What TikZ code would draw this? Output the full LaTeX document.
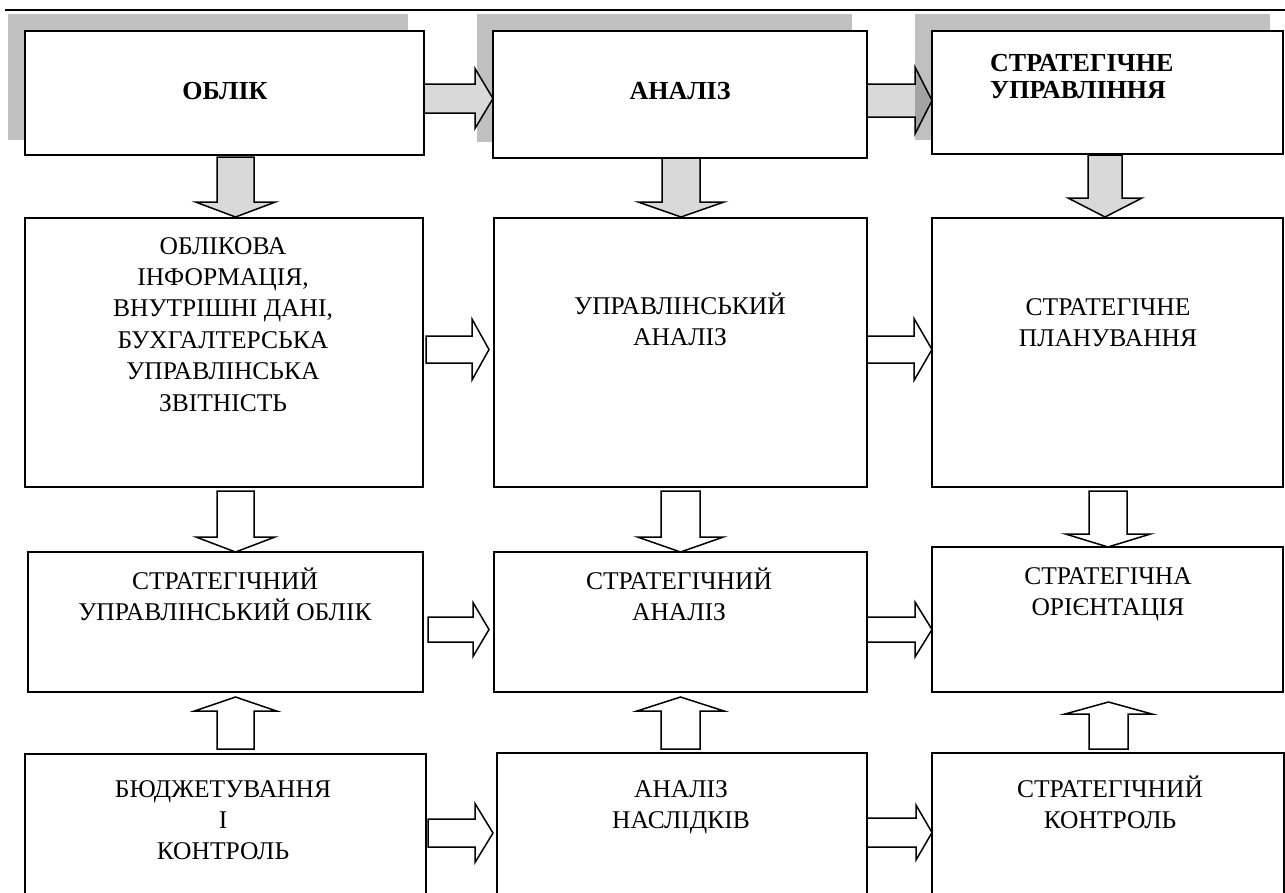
\documentclass[tikz,border=0pt]{standalone}
\usepackage{fontspec}
\setmainfont{Liberation Serif}
\usetikzlibrary{calc}
\definecolor{shadowgray}{HTML}{C0C0C0}
\definecolor{arrowgray}{HTML}{D9D9D9}
\newcommand{\txtlines}[1]{\begin{tabular}[t]{@{}c@{}}#1\end{tabular}}
\newcommand{\txtleft}[1]{\begin{tabular}[t]{@{}l@{}}#1\end{tabular}}
% right block arrow: style, from, to, y centre, shaft half, head half, head length, start gap, tip gap
\newcommand{\RArrow}[9]{%
  \coordinate (ra-s) at ($(#2.east |- 0,#4)+(#8,0)$);
  \coordinate (ra-t) at ($(#3.west |- 0,#4)+(-#9,0)$);
  \draw[#1] ($(ra-s)+(0,-#5)$) -- ($(ra-t)+(-#7,-#5)$) -- ($(ra-t)+(-#7,-#6)$) -- (ra-t)
    -- ($(ra-t)+(-#7,#6)$) -- ($(ra-t)+(-#7,#5)$) -- ($(ra-s)+(0,#5)$) -- cycle;}
% down block arrow: style, from, to, x centre, shaft half, head half, head length, start gap, tip gap
\newcommand{\DArrow}[9]{%
  \coordinate (da-s) at ($(#2.south -| #4,0)+(0,#8)$);
  \coordinate (da-t) at ($(#3.north -| #4,0)+(0,-#9)$);
  \draw[#1] ($(da-s)+(-#5,0)$) -- ($(da-t)+(-#5,-#7)$) -- ($(da-t)+(-#6,-#7)$) -- (da-t)
    -- ($(da-t)+(#6,-#7)$) -- ($(da-t)+(#5,-#7)$) -- ($(da-s)+(#5,0)$) -- cycle;}
% up block arrow: style, from (lower), to (upper), x centre, shaft half, head half, head length, start gap, tip gap
\newcommand{\UArrow}[9]{%
  \coordinate (ua-s) at ($(#2.north -| #4,0)+(0,-#8)$);
  \coordinate (ua-t) at ($(#3.south -| #4,0)+(0,#9)$);
  \draw[#1] ($(ua-s)+(-#5,0)$) -- ($(ua-t)+(-#5,#7)$) -- ($(ua-t)+(-#6,#7)$) -- (ua-t)
    -- ($(ua-t)+(#6,#7)$) -- ($(ua-t)+(#5,#7)$) -- ($(ua-s)+(#5,0)$) -- cycle;}

\begin{document}
\begin{tikzpicture}[x=1pt,y=-1pt,
  box/.style={draw=black, line width=1.5pt, fill=white, inner sep=0pt, outer sep=0pt, anchor=north west},
  lbl/.style={anchor=base, inner sep=0pt, font=\fontsize{25.5}{31.4}\selectfont},
  hdr/.style={anchor=base, inner sep=0pt, font=\bfseries\fontsize{26}{27}\selectfont},
  garrow/.style={draw=black, line width=1.5pt, fill=arrowgray},
  garrowb/.style={draw=black, line width=1.5pt, fill=black, fill opacity=0.15, draw opacity=1},
  warrow/.style={draw=black, line width=1.5pt, fill=white},
]
\useasboundingbox (0,0) rectangle (1285,892);
\clip (0,0) rectangle (1285,892);
\fill[white] (0,0) rectangle (1285,892);

% top rule
\draw[line width=2.5pt] (5,10) -- (1285,10);

% shadows of the top boxes
\fill[shadowgray] (8,14) rectangle (408,140);
\fill[shadowgray] (477,14) rectangle (852,142);
\fill[shadowgray] (915,14) rectangle (1270,140);

% top row
\node[box, minimum width=399pt, minimum height=124pt] (acc) at (25,31) {};
\node[box, minimum width=374pt, minimum height=127pt] (ana) at (493,31) {};
\node[box, minimum width=351pt, minimum height=123pt] (stm) at (932,31) {};

% second row
\node[box, minimum width=398pt, minimum height=269pt] (r2c1) at (25,218) {};
\node[box, minimum width=373pt, minimum height=269pt] (r2c2) at (494,218) {};
\node[box, minimum width=351pt, minimum height=269pt] (r2c3) at (932,218) {};

% third row
\node[box, minimum width=395pt, minimum height=140pt] (r3c1) at (28,552) {};
\node[box, minimum width=373pt, minimum height=140pt] (r3c2) at (494,552) {};
\node[box, minimum width=351pt, minimum height=145pt] (r3c3) at (932,547) {};

% fourth row (cut by the page bottom)
\node[box, minimum width=401pt, minimum height=160pt] (r4c1) at (25,754) {};
\node[box, minimum width=370pt, minimum height=160pt] (r4c2) at (497,753) {};
\node[box, minimum width=352pt, minimum height=160pt] (r4c3) at (932,753) {};

% horizontal arrows
\RArrow{garrow}{acc}{ana}{98.5}{14.5}{30}{18}{0}{0}
\RArrow{garrowb}{ana}{stm}{100.5}{16.5}{33.5}{17}{0}{0}
\RArrow{warrow}{r2c1}{r2c2}{349.5}{13.5}{30.5}{17}{3}{5}
\RArrow{warrow}{r2c2}{r2c3}{349.5}{13.5}{31}{18}{0}{0}
\RArrow{warrow}{r3c1}{r3c2}{629.5}{12.5}{27}{16}{5}{5}
\RArrow{warrow}{r3c2}{r3c3}{629.5}{12.5}{27.5}{17}{0}{0}
\RArrow{warrow}{r4c1}{r4c2}{833}{14}{29.5}{18}{2}{4}
\RArrow{warrow}{r4c2}{r4c3}{832.5}{14.5}{27.5}{16}{0}{0}

% down arrows
\DArrow{garrow}{acc}{r2c1}{235.5}{18.5}{40}{15}{2}{1}
\DArrow{garrow}{ana}{r2c2}{681}{19}{43}{15}{0}{1}
\DArrow{garrow}{stm}{r2c3}{1105}{17}{37}{19}{1}{1}
\DArrow{warrow}{r2c1}{r3c1}{235.5}{18.5}{39.5}{15}{4}{0}
\DArrow{warrow}{r2c2}{r3c2}{680.5}{19.5}{43}{15}{4}{0}
\DArrow{warrow}{r2c3}{r3c3}{1108}{19}{42.5}{13}{4}{0}

% up arrows
\UArrow{warrow}{r4c1}{r3c1}{235.5}{18.5}{41}{14}{5}{5}
\UArrow{warrow}{r4c2}{r3c2}{680.5}{19.5}{43.5}{14}{4}{5}
\UArrow{warrow}{r4c3}{r3c3}{1108.5}{19.5}{43.5}{12}{4}{10}

% texts
\node[hdr] (t-acc) at (225,99) {ОБЛІК};
\node[hdr] (t-ana) at (680,99) {АНАЛІЗ};
\node[hdr, anchor=base west] (t-stm) at (990,71) {\txtleft{СТРАТЕГІЧНЕ\\УПРАВЛІННЯ}};

\node[lbl] (t21) at (223,254) {\txtlines{ОБЛІКОВА\\ІНФОРМАЦІЯ,\\ВНУТРІШНІ ДАНІ,\\БУХГАЛТЕРСЬКА\\УПРАВЛІНСЬКА\\ЗВІТНІСТЬ}};
\node[lbl] (t22) at (680,314) {\txtlines{УПРАВЛІНСЬКИЙ\\АНАЛІЗ}};
\node[lbl] (t23) at (1108,315) {\txtlines{СТРАТЕГІЧНЕ\\ПЛАНУВАННЯ}};
\node[lbl] (t31) at (225,589) {\txtlines{СТРАТЕГІЧНИЙ\\УПРАВЛІНСЬКИЙ ОБЛІК}};
\node[lbl] (t32) at (679,589) {\txtlines{СТРАТЕГІЧНИЙ\\АНАЛІЗ}};
\node[lbl] (t33) at (1108,584) {\txtlines{СТРАТЕГІЧНА\\ОРІЄНТАЦІЯ}};
\node[lbl] (t41) at (223,797) {\txtlines{БЮДЖЕТУВАННЯ\\І\\КОНТРОЛЬ}};
\node[lbl] (t42) at (681,797) {\txtlines{АНАЛІЗ\\НАСЛІДКІВ}};
\node[lbl] (t43) at (1110,797) {\txtlines{СТРАТЕГІЧНИЙ\\КОНТРОЛЬ}};
\end{tikzpicture}
\end{document}
